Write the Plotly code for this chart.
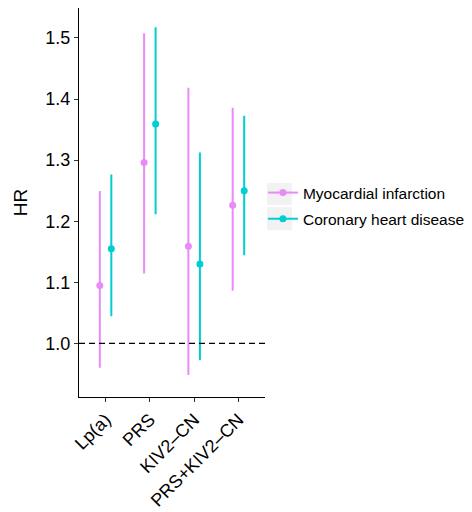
import plotly.graph_objects as go

categories = ["Lp(a)", "PRS", "KIV2\u2013CN", "PRS+KIV2\u2013CN"]
series_names = ["Myocardial infarction", "Coronary heart disease"]
mi_hr = [1.095, 1.296, 1.159, 1.226]
mi_lo = [0.962, 1.116, 0.950, 1.088]
mi_hi = [1.248, 1.506, 1.417, 1.384]
chd_hr = [1.155, 1.359, 1.130, 1.250]
chd_lo = [1.046, 1.213, 0.974, 1.146]
chd_hi = [1.275, 1.516, 1.311, 1.371]
y_ticks = [1.0, 1.1, 1.2, 1.3, 1.4, 1.5]

colors = ["#E98BF7", "#00CED1"]
dodge = 0.13
font = "Liberation Sans, Arial, sans-serif"

fig = go.Figure()
for k, (hr, lo, hi) in enumerate([(mi_hr, mi_lo, mi_hi), (chd_hr, chd_lo, chd_hi)]):
    off = -dodge if k == 0 else dodge
    xs = [i + off for i in range(len(categories))]
    fig.add_trace(go.Scatter(
        x=xs, y=hr, mode="markers", showlegend=False,
        marker=dict(color=colors[k], size=7),
        error_y=dict(type="data", symmetric=False,
                     array=[h - v for h, v in zip(hi, hr)],
                     arrayminus=[v - l for v, l in zip(hr, lo)],
                     color=colors[k], thickness=2, width=1),
    ))
    fig.add_trace(go.Scatter(
        x=[None], y=[None], mode="lines+markers", name=series_names[k],
        legendgroup=f"g{k}",
        line=dict(color=colors[k], width=2), marker=dict(color=colors[k], size=7),
    ))

fig.add_shape(type="line", xref="paper", yref="y", x0=0, x1=1, y0=1.0, y1=1.0,
              line=dict(color="black", width=1.2, dash="6px,4px"))

# legend key backgrounds
for y0, y1 in [(0.4936, 0.550), (0.429, 0.488)]:
    fig.add_shape(type="rect", xref="paper", yref="paper",
                  x0=1.011, x1=1.145, y0=y0, y1=y1,
                  fillcolor="#F2F2F2", line=dict(width=0), layer="below")

fig.update_layout(
    width=472, height=512,
    margin=dict(l=79, r=207, t=8, b=115, autoexpand=False),
    paper_bgcolor="white", plot_bgcolor="white",
    font=dict(family=font, color="black", size=15),
    legend=dict(x=0.989, xanchor="left", y=0.491, yanchor="middle",
                font=dict(size=15.5, family=font), bgcolor="rgba(0,0,0,0)",
                itemwidth=30, tracegroupgap=3),
    xaxis=dict(range=[-0.6, 3.6], tickvals=list(range(len(categories))),
               ticktext=categories, tickangle=-45, showgrid=False, zeroline=False,
               showline=True, linecolor="black", linewidth=1.3, automargin=False,
               ticks="outside", ticklen=4, tickcolor="#333", tickwidth=1.2,
               tickfont=dict(size=18, family=font)),
    yaxis=dict(range=[0.9124, 1.549], tickvals=y_ticks,
               ticktext=[f"{v:.1f}" for v in y_ticks],
               showgrid=False, zeroline=False, automargin=False,
               showline=True, linecolor="black", linewidth=1.3,
               ticks="outside", ticklen=4, tickcolor="#333", tickwidth=1.2,
               tickfont=dict(size=18, family=font),
               title=dict(text="HR", font=dict(size=19, family=font), standoff=12)),
)

fig.write_html("out.html")
